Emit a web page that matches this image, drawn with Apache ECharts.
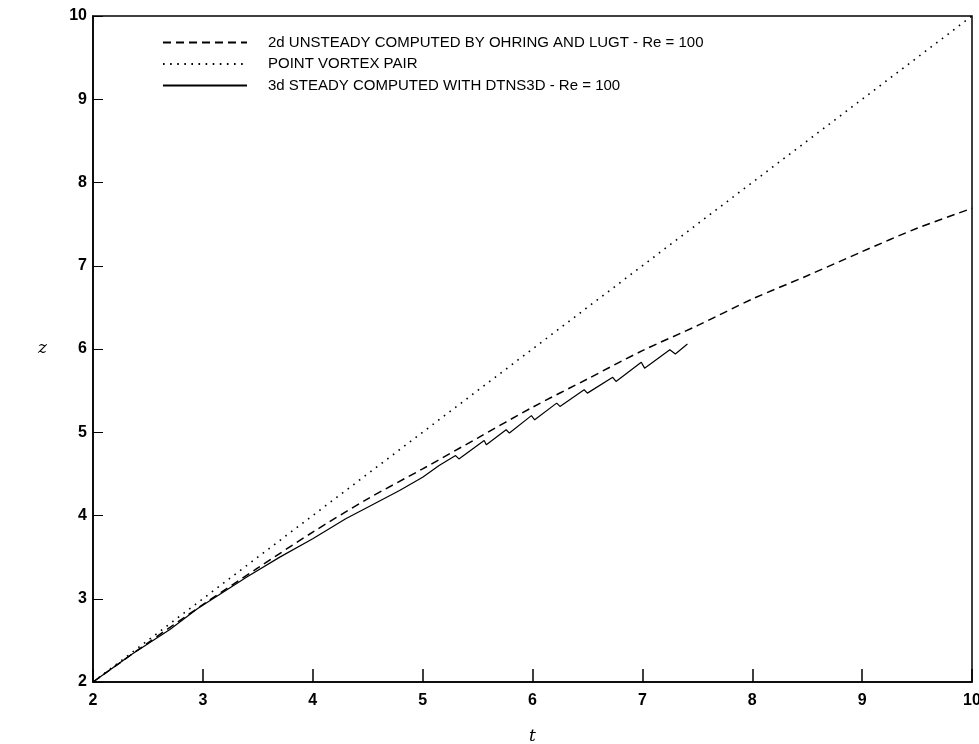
<!DOCTYPE html>
<html>
<head>
<meta charset="utf-8">
<script src="https://cdn.jsdelivr.net/npm/echarts@6/dist/echarts.min.js"></script>
<style>
  html, body { margin: 0; padding: 0; background: #fff; }
  #main { width: 979px; height: 744px; }
</style>
</head>
<body>
<div id="main"></div>
<script>
  // series names
  var seriesNames = [
    '2d UNSTEADY COMPUTED BY OHRING AND LUGT - Re = 100',
    'POINT VORTEX PAIR',
    '3d STEADY COMPUTED WITH DTNS3D - Re = 100'
  ];

  // 2d unsteady (dashed)
  var unsteadyT = [2, 2.5, 3, 3.5, 4, 4.5, 5, 5.5, 6, 6.5, 7, 7.5, 8, 8.5, 9, 9.5, 10];
  var unsteadyZ = [2, 2.47, 2.93, 3.37, 3.8, 4.2, 4.56, 4.93, 5.3, 5.64, 5.98, 6.28, 6.6, 6.88, 7.17, 7.45, 7.69];

  // point vortex pair (dotted)
  var vortexT = [2, 10];
  var vortexZ = [2, 10];

  // 3d steady (solid, saw-tooth)
  var steadyT = [2, 2.35, 2.7, 2.95, 3.4, 3.7, 4, 4.3, 4.5, 4.79, 5, 5.15,
                 5.3, 5.33, 5.56, 5.58, 5.76, 5.79, 5.99, 6.02, 6.22, 6.25,
                 6.47, 6.5, 6.73, 6.76, 6.99, 7.02, 7.25, 7.3, 7.41];
  var steadyZ = [2, 2.33, 2.63, 2.88, 3.26, 3.5, 3.72, 3.96, 4.1, 4.3, 4.46, 4.6,
                 4.72, 4.68, 4.9, 4.85, 5.03, 4.99, 5.2, 5.15, 5.35, 5.31,
                 5.51, 5.47, 5.66, 5.61, 5.84, 5.77, 5.99, 5.94, 6.06];

  function pairs(xs, ys) {
    return xs.map(function (x, i) { return [x, ys[i]]; });
  }

  var myChart = echarts.init(document.getElementById('main'));

  var labelFont = {
    color: '#000',
    fontFamily: 'Liberation Sans, Arial, sans-serif',
    fontWeight: 'bold',
    fontSize: 16
  };

  var option = {
    backgroundColor: '#ffffff',
    animation: false,
    grid: {
      left: 93, right: 7, top: 16, bottom: 62,
      outerBoundsMode: 'none',
      containLabel: false,
      show: true,
      borderColor: '#000',
      borderWidth: 1.5
    },
    legend: {
      orient: 'vertical',
      left: 157,
      top: 30,
      itemWidth: 84,
      itemHeight: 14,
      itemGap: 6.5,
      data: seriesNames,
      itemStyle: { opacity: 0 },
      textStyle: {
        color: '#000',
        fontFamily: 'Liberation Sans, Arial, sans-serif',
        fontSize: 15,
        padding: [0, 0, 0, 16]
      }
    },
    xAxis: {
      type: 'value',
      min: 2, max: 10, interval: 1,
      name: 't',
      nameLocation: 'middle',
      nameGap: 46,
      nameTextStyle: {
        fontFamily: 'DejaVu Serif, serif',
        fontStyle: 'italic',
        fontSize: 17,
        color: '#000'
      },
      axisLine: { lineStyle: { color: '#000', width: 1.5 } },
      axisTick: { inside: true, length: 13, lineStyle: { color: '#000', width: 1.5 } },
      axisLabel: Object.assign({ margin: 11 }, labelFont),
      splitLine: { show: false }
    },
    yAxis: {
      type: 'value',
      min: 2, max: 10, interval: 1,
      name: 'z',
      nameLocation: 'middle',
      nameRotate: 0,
      nameGap: 46,
      nameTextStyle: {
        fontFamily: 'DejaVu Serif, serif',
        fontStyle: 'italic',
        fontSize: 17,
        color: '#000'
      },
      axisLine: { lineStyle: { color: '#000', width: 1.5 } },
      axisTick: { inside: true, length: 10, lineStyle: { color: '#000', width: 1 } },
      axisLabel: Object.assign({ margin: 6 }, labelFont),
      splitLine: { show: false }
    },
    series: [
      {
        name: seriesNames[0],
        type: 'line',
        symbol: 'none',
        smooth: 0.3,
        data: pairs(unsteadyT, unsteadyZ),
        lineStyle: { color: '#000', width: 1.5, type: [8, 5] },
        itemStyle: { color: '#000' }
      },
      {
        name: seriesNames[1],
        type: 'line',
        symbol: 'none',
        data: pairs(vortexT, vortexZ),
        lineStyle: { color: '#000', width: 1.6, type: [1.6, 5.5] },
        itemStyle: { color: '#000' }
      },
      {
        name: seriesNames[2],
        type: 'line',
        symbol: 'none',
        data: pairs(steadyT, steadyZ),
        lineStyle: { color: '#000', width: 1.2, type: 'solid' },
        itemStyle: { color: '#000' }
      }
    ]
  };

  myChart.setOption(option);
  window.addEventListener('resize', function () {
    myChart.resize();
  });
</script>
</body>
</html>
